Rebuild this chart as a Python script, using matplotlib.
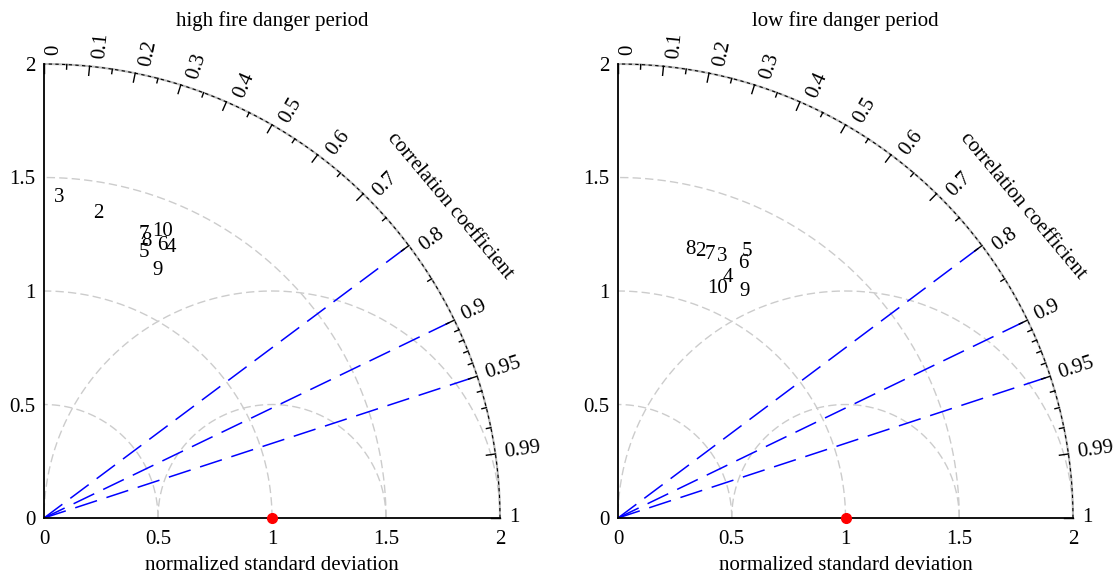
import numpy as np
import matplotlib
matplotlib.use("Agg")
import matplotlib.pyplot as plt

plt.rcParams['font.family'] = ['Liberation Serif', 'DejaVu Serif']
plt.rcParams['font.size'] = 15

# model labels and their (normalized std, correlation) positions read as x/y
labels_high = ['3', '2', '7', '10', '8', '6', '4', '5', '9']
x_high = [0.066, 0.24, 0.44, 0.52, 0.45, 0.52, 0.555, 0.44, 0.50]
y_high = [1.41, 1.34, 1.25, 1.26, 1.22, 1.20, 1.19, 1.17, 1.09]

labels_low = ['8', '2', '7', '3', '5', '6', '4', '10', '9']
x_low = [0.317, 0.361, 0.405, 0.458, 0.568, 0.551, 0.485, 0.436, 0.555]
y_low = [1.185, 1.172, 1.159, 1.15, 1.172, 1.123, 1.06, 1.013, 1.0]

titles = ['high fire danger period', 'low fire danger period']

corr_major = [0, 0.1, 0.2, 0.3, 0.4, 0.5, 0.6, 0.7, 0.8, 0.9, 0.95, 0.99, 1]
corr_minor = [0.05, 0.15, 0.25, 0.35, 0.45, 0.55, 0.65, 0.75, 0.85,
              0.91, 0.92, 0.93, 0.94, 0.96, 0.97, 0.98]
corr_lines = [0.8, 0.9, 0.95]
std_circles = [0.5, 1.0, 1.5]
rms_circles = [0.5, 1.0]
ref_std = 1.0
rmax = 2.0


def taylor(ax, labels, xs, ys, title):
    ax.set_xlim(0, rmax)
    ax.set_ylim(0, rmax)
    for s in ['top', 'right']:
        ax.spines[s].set_visible(False)
    for s in ['left', 'bottom']:
        ax.spines[s].set_linewidth(1.3)
    ax.set_xticks([0, 0.5, 1, 1.5, 2])
    ax.set_xticklabels(['0', '0.5', '1', '1.5', '2'])
    ax.set_yticks([0, 0.5, 1, 1.5, 2])
    ax.set_yticklabels(['0', '0.5', '1', '1.5', '2'])
    ax.tick_params(axis='y', length=0, pad=6)
    ax.tick_params(axis='x', length=0, pad=9)

    t = np.linspace(0, np.pi / 2, 400)
    # std circles
    for r in std_circles:
        ax.plot(r * np.cos(t), r * np.sin(t), color='#cccccc', lw=1,
                dashes=(6, 3))
    # rms circles around reference
    tt = np.linspace(0, np.pi, 400)
    for r in rms_circles:
        cx = ref_std + r * np.cos(tt)
        cy = r * np.sin(tt)
        ok = np.hypot(cx, cy) <= rmax
        ax.plot(cx[ok], cy[ok], color='#cccccc', lw=1, dashes=(6, 3))
    # correlation lines
    for c in corr_lines:
        a = np.arccos(c)
        ax.plot([0, rmax * np.cos(a)], [0, rmax * np.sin(a)], color='blue',
                lw=1.1, dashes=(15, 6.5))
    # outer arc
    ax.plot(rmax * np.cos(t), rmax * np.sin(t), color='#bbbbbb', lw=1.5,
            clip_on=False)
    ax.plot(rmax * np.cos(t), rmax * np.sin(t), color='black', lw=0.8,
            dashes=(3, 3), clip_on=False)
    for c in corr_major:
        a = np.arccos(c)
        ax.plot([rmax * np.cos(a), (rmax - 0.04) * np.cos(a)],
                [rmax * np.sin(a), (rmax - 0.04) * np.sin(a)],
                color='black', lw=1, clip_on=False)
        lab = ('%g' % c)
        va = 'top' if c < 0.85 else 'center'
        ax.text(2.04 * np.cos(a), 2.04 * np.sin(a), lab, rotation=np.degrees(a),
                rotation_mode='anchor', ha='left', va=va, clip_on=False)
    for c in corr_minor:
        a = np.arccos(c)
        ax.plot([rmax * np.cos(a), (rmax - 0.02) * np.cos(a)],
                [rmax * np.sin(a), (rmax - 0.02) * np.sin(a)],
                color='black', lw=1, clip_on=False)
    ax.text(1.78, 1.375, 'correlation coefficient', rotation=-50,
            rotation_mode='anchor', ha='center', va='center')

    ax.plot([ref_std], [0], 'o', color='red', ms=7, clip_on=False, zorder=5)

    for lab, x, y in zip(labels, xs, ys):
        ax.text(x, y, lab, ha='center', va='center')

    ax.text(0.5, 1 + 43 / 454, title, transform=ax.transAxes, ha='center',
            va='center')
    ax.text(0.5, -48 / 454, 'normalized standard deviation',
            transform=ax.transAxes, ha='center', va='center')


fig = plt.figure(figsize=(11.15, 5.77), dpi=100)
W, H = 1115, 577
ax1 = fig.add_axes([44 / W, (H - 518) / H, 456 / W, 454 / H])
ax2 = fig.add_axes([618 / W, (H - 518) / H, 455 / W, 454 / H])
taylor(ax1, labels_high, x_high, y_high, titles[0])
taylor(ax2, labels_low, x_low, y_low, titles[1])

fig.savefig('out.png', dpi=100)
